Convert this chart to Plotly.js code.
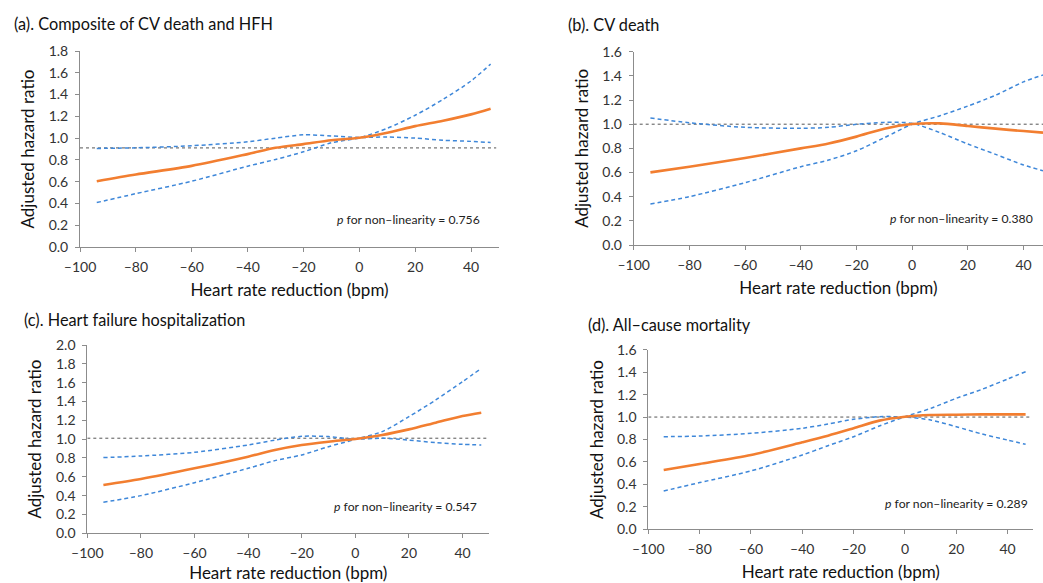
<!DOCTYPE html>
<html>
<head>
<meta charset="utf-8">
<script src="https://cdn.plot.ly/plotly-3.0.1.min.js"></script>
<style>html,body{margin:0;padding:0;background:#fff;}#chart{width:1043px;height:583px;}</style>
</head>
<body>
<div id="chart"></div>
<script>
// Heart rate reduction (bpm) sample positions
const xs = [-94, -80, -60, -40, -30, -20, -10, 0, 10, 20, 30, 40, 47];

// (a) Composite of CV death and HFH
const aHR    = [0.604, 0.666, 0.745, 0.853, 0.911, 0.945, 0.98, 1.003, 1.05, 1.11, 1.16, 1.218, 1.27];
const aBand1 = [0.905, 0.911, 0.93, 0.966, 1.0, 1.03, 1.02, 1.006, 1.01, 1.0, 0.98, 0.97, 0.96];
const aBand2 = [0.408, 0.49, 0.604, 0.742, 0.804, 0.874, 0.957, 1.003, 1.09, 1.21, 1.356, 1.525, 1.68];

// (b) CV death
const bHR    = [0.601, 0.648, 0.72, 0.8, 0.841, 0.897, 0.963, 1.001, 1.007, 0.985, 0.963, 0.943, 0.93];
const bBand1 = [1.051, 1.012, 0.974, 0.966, 0.974, 0.999, 1.015, 1.007, 0.93, 0.836, 0.75, 0.662, 0.615];
const bBand2 = [0.339, 0.4, 0.516, 0.648, 0.703, 0.78, 0.888, 1.0, 1.07, 1.15, 1.24, 1.35, 1.407];

// (c) Heart failure hospitalization
const cHR    = [0.513, 0.577, 0.69, 0.814, 0.885, 0.938, 0.973, 1.002, 1.044, 1.104, 1.175, 1.246, 1.281];
const cBand1 = [0.804, 0.821, 0.86, 0.938, 0.99, 1.03, 1.027, 1.0, 1.01, 0.99, 0.963, 0.945, 0.938];
const cBand2 = [0.33, 0.4, 0.538, 0.69, 0.772, 0.832, 0.92, 0.998, 1.08, 1.239, 1.416, 1.61, 1.752];

// (d) All-cause mortality
const dHR    = [0.528, 0.582, 0.662, 0.775, 0.834, 0.9, 0.968, 1.003, 1.018, 1.021, 1.024, 1.024, 1.024];
const dBand1 = [0.825, 0.831, 0.855, 0.9, 0.938, 0.98, 1.003, 1.0, 0.974, 0.914, 0.849, 0.795, 0.757];
const dBand2 = [0.341, 0.416, 0.52, 0.662, 0.745, 0.825, 0.92, 1.003, 1.077, 1.167, 1.247, 1.339, 1.404];

// reference line levels, p values, titles, tick labels
const refY = [0.91, 1.0, 1.01, 1.0];
const pVals = ['0.756', '0.380', '0.547', '0.289'];
const panelTitles = ['(a). Composite of CV death and HFH', '(b). CV death', '(c). Heart failure hospitalization', '(d). All–cause mortality'];
const xTickVals = [-100, -80, -60, -40, -20, 0, 20, 40];
const xTickText = ['–100', '–80', '–60', '–40', '–20', '0', '20', '40'];
const yMax = [1.8, 1.6, 2.0, 1.6];
const xMax = [50, 47, 50, 50];
const xTitle = 'Heart rate reduction (bpm)';
const yTitle = 'Adjusted hazard ratio';

const W = 1043, H = 583;
const FONT = 'Lato, "Open Sans", sans-serif';
// plot boxes in pixels [left, right, top, bottom]
const boxes = [
  [80, 499, 51, 247],
  [633.7, 1043, 51.7, 245],
  [87.3, 489.3, 345, 533.3],
  [648.3, 1033.3, 349.7, 529.3]
];
const titlePos = [[12, 23], [566, 24], [22, 319], [586, 324]];
const pPos = [[335, 219], [888, 218], [332, 507], [883, 503]];

const series = [
  [aHR, aBand1, aBand2], [bHR, bBand1, bBand2], [cHR, cBand1, cBand2], [dHR, dBand1, dBand2]
];

const ORANGE = '#F27E30';
const BLUE = '#3E87D9';
const AXC = '#8c8c8c';

const data = [];
const layout = {
  width: W, height: H,
  margin: {l: 0, r: 0, t: 0, b: 0},
  paper_bgcolor: '#fff', plot_bgcolor: 'rgba(0,0,0,0)',
  showlegend: false,
  font: {family: FONT, color: '#222'},
  annotations: [], shapes: []
};

series.forEach((s, i) => {
  const n = i === 0 ? '' : String(i + 1);
  const xa = 'x' + n, ya = 'y' + n;
  const [hr, b1, b2] = s;
  [b1, b2].forEach(b => data.push({
    x: xs, y: b, xaxis: xa, yaxis: ya, type: 'scatter', mode: 'lines',
    line: {color: BLUE, width: 1.5, dash: '4px,3px', shape: 'spline', smoothing: 0.8},
    hoverinfo: 'skip'
  }));
  data.push({
    x: xs, y: hr, xaxis: xa, yaxis: ya, type: 'scatter', mode: 'lines',
    line: {color: ORANGE, width: 2.6, shape: 'spline', smoothing: 0.8},
    hoverinfo: 'skip'
  });
  const [l, r, t, b] = boxes[i];
  const axCommon = {
    showline: true, linecolor: AXC, linewidth: 1, mirror: false,
    ticks: 'outside', ticklen: 4, tickcolor: AXC, tickwidth: 1,
    showgrid: false, zeroline: false, fixedrange: true,
    tickfont: {family: FONT, size: 14, color: '#333'}
  };
  layout['xaxis' + n] = Object.assign({}, axCommon, {
    domain: [l / W, r / W], anchor: ya, range: [-100, xMax[i]],
    tickmode: 'array', tickvals: xTickVals, ticktext: xTickText,
    ticklabelstandoff: 3,
    title: {text: xTitle, font: {family: FONT, size: 17, color: '#111'}, standoff: 10}
  });
  layout['yaxis' + n] = Object.assign({}, axCommon, {
    domain: [1 - b / H, 1 - t / H], anchor: xa, range: [0, yMax[i]],
    tick0: 0, dtick: 0.2, tickformat: '.1f',
    ticklabelstandoff: 4,
    title: {text: yTitle, font: {family: FONT, size: 17, color: '#111'}, standoff: 9}
  });
  layout.shapes.push({
    type: 'line', xref: xa, yref: ya, x0: -100, x1: Math.min(49, xMax[i]), y0: refY[i], y1: refY[i],
    line: {color: '#555', width: 1, dash: 'dot'}, layer: 'below'
  });
  layout.annotations.push({
    xref: 'paper', yref: 'paper', x: titlePos[i][0] / W, y: 1 - titlePos[i][1] / H,
    xanchor: 'left', yanchor: 'middle', showarrow: false,
    text: panelTitles[i], font: {family: FONT, size: 16.3, color: '#111'}
  });
  layout.annotations.push({
    xref: 'paper', yref: 'paper', x: pPos[i][0] / W, y: 1 - pPos[i][1] / H,
    xanchor: 'left', yanchor: 'middle', showarrow: false,
    text: '<i>p</i> for non–linearity = ' + pVals[i], font: {family: FONT, size: 12.2, color: '#222'}
  });
});

Plotly.newPlot('chart', data, layout, {staticPlot: true, displayModeBar: false});
</script>
</body>
</html>
